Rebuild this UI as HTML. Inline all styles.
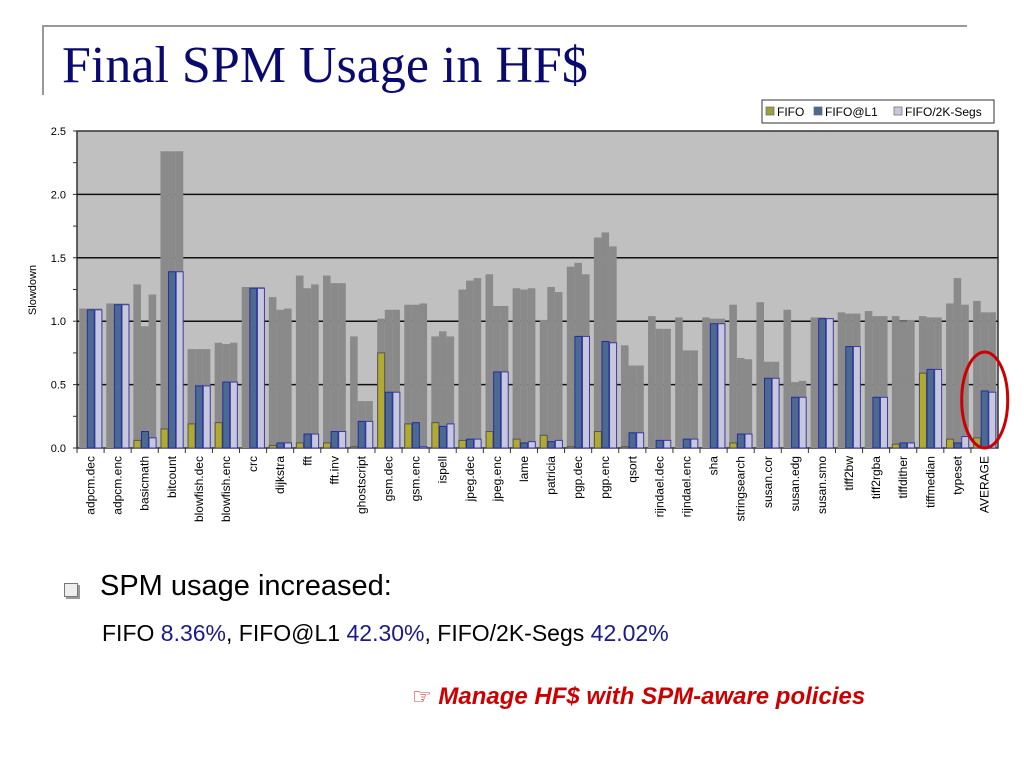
<!DOCTYPE html>
<html><head><meta charset="utf-8"><style>
body{margin:0;width:1024px;height:768px;background:#fff;position:relative;overflow:hidden;font-family:"Liberation Sans",sans-serif}
.t{position:absolute;white-space:nowrap}
</style></head><body>
<div style="position:absolute;left:42px;top:25px;width:923px;height:68px;border-top:2px solid #999;border-left:2px solid #999"></div>
<div class="t" style="left:62px;top:36px;font-family:'Liberation Serif',serif;font-size:52px;color:#0a0a6e">Final SPM Usage in HF$</div>
<svg id="chart" width="1024" height="560" style="position:absolute;left:0;top:0"></svg>
<div class="t" style="left:64px;top:583px;width:12px;height:12px;border:1px solid #777;background:#eee;box-shadow:2px 2px 0 #999"></div>
<div class="t" style="left:100px;top:570px;font-size:29px;color:#000">SPM usage increased:</div>
<div class="t" style="left:102px;top:620px;font-size:23px;color:#000">FIFO <span style="color:#1a1a8a">8.36%</span>, FIFO@L1 <span style="color:#1a1a8a">42.30%</span>, FIFO/2K-Segs <span style="color:#1a1a8a">42.02%</span></div>
<div class="t" style="left:412px;top:683px;font-size:24px;color:#cc0000;font-weight:bold;font-style:italic"><span style="font-style:normal;font-weight:normal;font-family:'DejaVu Sans',sans-serif;font-size:22px">☞</span> Manage HF$ with SPM-aware policies</div>
<script>
const categories=["adpcm.dec","adpcm.enc","basicmath","bitcount","blowfish.dec","blowfish.enc","crc","dijkstra","fft","fft.inv","ghostscript","gsm.dec","gsm.enc","ispell","jpeg.dec","jpeg.enc","lame","patricia","pgp.dec","pgp.enc","qsort","rijndael.dec","rijndael.enc","sha","stringsearch","susan.cor","susan.edg","susan.smo","tiff2bw","tiff2rgba","tiffdither","tiffmedian","typeset","AVERAGE"];
const slowFIFO=[1.10,1.14,1.29,2.34,0.78,0.83,1.27,1.19,1.36,1.36,0.88,1.02,1.13,0.88,1.25,1.37,1.26,1.01,1.43,1.66,0.81,1.04,1.03,1.03,1.13,1.15,1.09,1.03,1.07,1.08,1.04,1.04,1.14,1.16];
const slowL1=[1.10,1.14,0.96,2.34,0.78,0.82,1.27,1.09,1.26,1.30,0.37,1.09,1.13,0.92,1.32,1.12,1.25,1.27,1.46,1.70,0.65,0.94,0.77,1.02,0.71,0.68,0.52,1.03,1.06,1.04,1.00,1.03,1.34,1.07];
const slow2K=[1.10,1.14,1.21,2.34,0.78,0.83,1.27,1.10,1.29,1.30,0.37,1.09,1.14,0.88,1.34,1.12,1.26,1.23,1.37,1.59,0.65,0.94,0.77,1.02,0.70,0.68,0.53,1.02,1.06,1.04,1.01,1.03,1.13,1.07];
const spmFIFO=[0.00,0.00,0.06,0.15,0.19,0.20,0.00,0.02,0.04,0.04,0.01,0.75,0.19,0.20,0.06,0.13,0.07,0.10,0.01,0.13,0.01,0.00,0.00,0.00,0.04,0.00,0.00,0.00,0.00,0.00,0.03,0.59,0.07,0.08];
const spmL1=[1.09,1.13,0.13,1.39,0.49,0.52,1.26,0.04,0.11,0.13,0.21,0.44,0.20,0.17,0.07,0.60,0.04,0.05,0.88,0.84,0.12,0.06,0.07,0.98,0.11,0.55,0.40,1.02,0.80,0.40,0.04,0.62,0.04,0.45];
const spm2K=[1.09,1.13,0.08,1.39,0.49,0.52,1.26,0.04,0.11,0.13,0.21,0.44,0.01,0.19,0.07,0.60,0.05,0.06,0.88,0.83,0.12,0.06,0.07,0.98,0.11,0.55,0.40,1.02,0.80,0.40,0.04,0.62,0.09,0.44];
const yTicks=["0.0","0.5","1.0","1.5","2.0","2.5"];
const NS="http://www.w3.org/2000/svg",svg=document.getElementById("chart");
const L=77,R=998,T=131,B=448,ymax=2.5,gw=(R-L)/categories.length;
const y=v=>B-v/ymax*(B-T);
const x=(i,s)=>L+i*gw+2.2+s*7.6;
function mk(tag,a,parent){const e=document.createElementNS(NS,tag);for(const k in a)e.setAttribute(k,a[k]);(parent||svg).appendChild(e);return e;}
let e;
e=mk("rect",{x:L,y:T,width:R-L,height:B-T,fill:"#c0c0c0",stroke:"#333","stroke-width":1.5});


yTicks.forEach(t=>{const v=parseFloat(t),yy=y(v);
 if(v>0&&v<ymax){e=mk("line",{x1:L,x2:R,y1:yy,y2:yy,stroke:"#111","stroke-width":1.5});
 
 }
 e=mk("text",{x:66,y:yy+4,"text-anchor":"end","font-size":11,"font-family":"Liberation Sans"});e.textContent=t;
 
 
});
for(let v=0;v<=ymax+0.001;v+=0.25){mk("line",{x1:L-4,x2:L,y1:y(v),y2:y(v),stroke:"#333"});}
const grays=[slowFIFO,slowL1,slow2K],cols=[[spmFIFO,"#b0aa30","#555"],[spmL1,"#4a6a90","#2a2aa0"],[spm2K,"#c8c8dc","#3a3aa8"]];
const gnames=['slowdown-fifo','slowdown-l1','slowdown-2k'],cnames=['bar-fifo','bar-fifo-l1','bar-fifo-2k'];
categories.forEach((c,i)=>{
 grays.forEach((arr,s)=>{e=mk("rect",{x:x(i,s),y:y(arr[i]),width:7.6,height:B-y(arr[i]),fill:"#8a8a8a"});
  
  });
 cols.forEach(([arr,f,st],s)=>{if(arr[i]>0.005){e=mk("rect",{x:x(i,s)+0.5,y:y(arr[i]),width:7,height:B-y(arr[i]),fill:f,stroke:st,"stroke-width":1});
  
  }});
 mk("line",{x1:L+i*gw,x2:L+i*gw,y1:B,y2:B+5,stroke:"#333"});
 const cx=L+i*gw+gw/2+4;
 e=mk("text",{x:cx,y:456,transform:`rotate(-90 ${cx} 456)`,"text-anchor":"end","font-size":12,"font-family":"Liberation Sans"});e.textContent=c;
 
 
});
e=mk("text",{x:36,y:290,transform:"rotate(-90 36 290)","text-anchor":"middle","font-size":11,"font-family":"Liberation Sans"});e.textContent="Slowdown";


const lg=mk("g",{});


mk("rect",{x:762,y:100,width:232,height:23,fill:"#fff",stroke:"#333"},lg);
[["FIFO","#9aa040",766],["FIFO@L1","#4a6a90",814],["FIFO/2K-Segs","#c8c8dc",894]].forEach(([n,f,lx])=>{
 e=mk("rect",{x:lx,y:107,width:8,height:8,fill:f,stroke:"#666","stroke-width":0.7},lg);
 
 
 e=mk("text",{x:lx+11,y:116,"font-size":12,"font-family":"Liberation Sans"},lg);e.textContent=n;
 
 
});
e=mk("ellipse",{cx:x(categories.length-1,1)+4,cy:400,rx:23,ry:48,fill:"none",stroke:"#cc0000","stroke-width":3});


</script>
</body></html>
